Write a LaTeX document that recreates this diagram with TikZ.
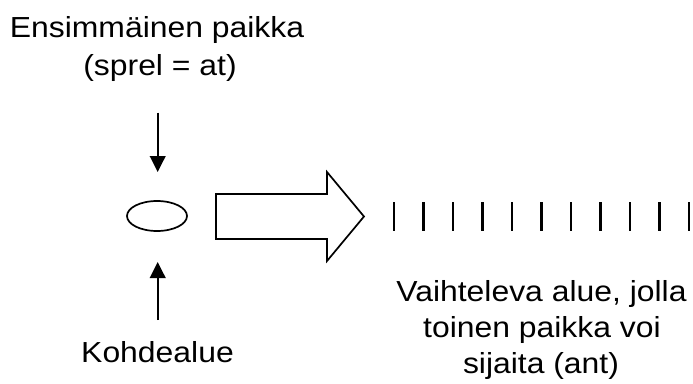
\documentclass[tikz,border=0pt]{standalone}
\usepackage{fontspec}
\setmainfont[FakeStretch=1.1]{Liberation Sans}
\usetikzlibrary{arrows.meta,shapes.geometric}
\begin{document}
\begin{tikzpicture}[x=1pt,y=-1pt,
  label/.style={inner sep=0pt,anchor=base,font=\fontsize{29}{35}\selectfont},
  pointer/.style={line width=2.4pt,-{Triangle[length=16pt,width=15.5pt]}},
  spot/.style={draw,ellipse,line width=1.7pt,minimum width=60pt,minimum height=30pt,inner sep=0pt},
  tick/.style={line width=2.1pt}]
\useasboundingbox (0,0) rectangle (693,383);

% labels
\node[label] (t1) at (157,37.5) {Ensimmäinen paikka};
\node[label] (t2) at (160,75.5) {(sprel = at)};
\node[label] (k1) at (157.5,362.5) {Kohdealue};
\node[label] (v1) at (541.5,301.5) {Vaihteleva alue, jolla};
\node[label] (v2) at (542,337.5) {toinen paikka voi};
\node[label] (v3) at (541,373.5) {sijaita (ant)};

% target region
\node[spot] (obj) at (157,216) {};

% pointers towards the target
\coordinate (topstart) at (157.7,112.7);
\coordinate (topend) at (157.7,172);
\coordinate (botstart) at (157.7,320);
\coordinate (botend) at (157.7,262);
\draw[pointer] (topstart) -- (topend);
\draw[pointer] (botstart) -- (botend);

% block arrow
\draw[line width=1.7pt,line join=miter]
  (216,194) -- (327,194) -- (327,172) -- (364,216.5) -- (327,261)
  -- (327,239) -- (216,239) -- cycle;

% varying region
\foreach \i in {0,...,10}{
  \draw[tick] ({394+29.5*\i},202) -- ({394+29.5*\i},231);
}
\end{tikzpicture}
\end{document}
